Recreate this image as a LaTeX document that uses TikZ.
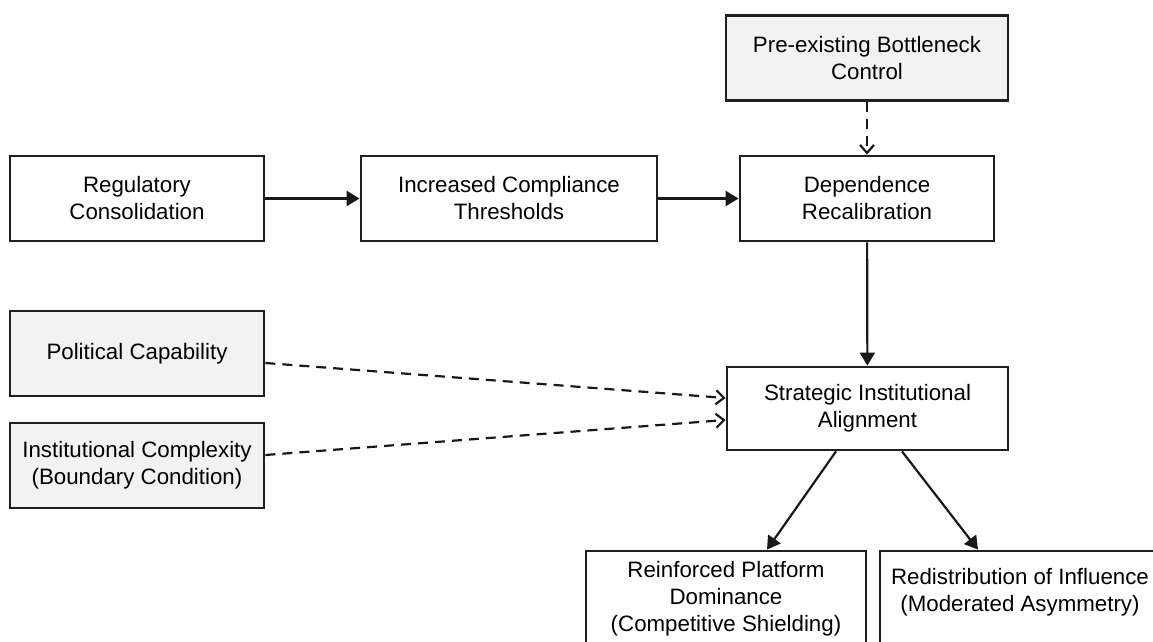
\documentclass[tikz,border=0pt]{standalone}
\usepackage{fontspec}
\setmainfont{Liberation Sans}
\usetikzlibrary{arrows.meta,positioning}

\begin{document}
\begin{tikzpicture}[x=0.5pt, y=-0.5pt, font=\fontsize{11.15}{13.5}\selectfont,
   box/.style={draw=black!88, line width=1.4pt, align=center, inner sep=0pt, minimum height=42.5pt},
   given/.style={box, fill=black!5},
   leads/.style={draw=black!90, line width=1.1pt, -{Triangle[length=6.5pt,width=7.5pt]}},
   bears/.style={draw=black!90, line width=1.1pt, dash pattern=on 5pt off 3.5pt, -{Straight Barb[length=4pt,width=7pt]}}]
   \path[use as bounding box, clip] (0,0) rectangle (1153,642);
   \foreach \pos/\name/\boxw/\disp in {{(137,198.5)/reg/127pt/Regulatory\\Consolidation}, {(509,198.5)/inc/148pt/Increased Compliance\\Thresholds}, {(867,198.5)/dep/127pt/Dependence\\Recalibration}}
   \node[box,minimum width=\boxw] (\name) at \pos {\disp};
   \foreach \pos/\name/\boxw/\disp in {{(867,58)/pre/141pt/Pre-existing Bottleneck\\Control}, {(137,353.5)/pol/127pt/Political Capability}, {(137,465.5)/inst/127pt/Institutional Complexity\\(Boundary Condition)}}
   \node[given,minimum width=\boxw] (\name) at \pos {\disp};
   \node[box,minimum width=140.5pt,minimum height=41.5pt] (strat) at (867.5,408.5) {Strategic Institutional\\Alignment};
   \node[box,minimum width=140pt,minimum height=48pt] (reinf) at (726,599) {Reinforced Platform\\Dominance\\(Competitive Shielding)};
   \node[box,minimum width=140pt,minimum height=48pt,text depth=9pt] (redis) at (1020,599) {Redistribution of Influence\\(Moderated Asymmetry)};
   \foreach \source/ \dest in {reg/inc, inc/dep, dep/strat} % main chain
   \path[leads] (\source) -- (\dest);
   \path[bears] (pre) -- (dep);
   \path[bears] ([yshift=-4.75pt]pol.east) -- ([yshift=5.25pt]strat.west);
   \path[bears] ([yshift=5.25pt]inst.east) -- ([yshift=-5.75pt]strat.west);
   \path[leads] ([xshift=-15.75pt]strat.south) -- ([xshift=20.5pt]reinf.north);
   \path[leads] ([xshift=17.25pt]strat.south) -- ([xshift=-21pt]redis.north);
   \end{tikzpicture}
\end{document}
